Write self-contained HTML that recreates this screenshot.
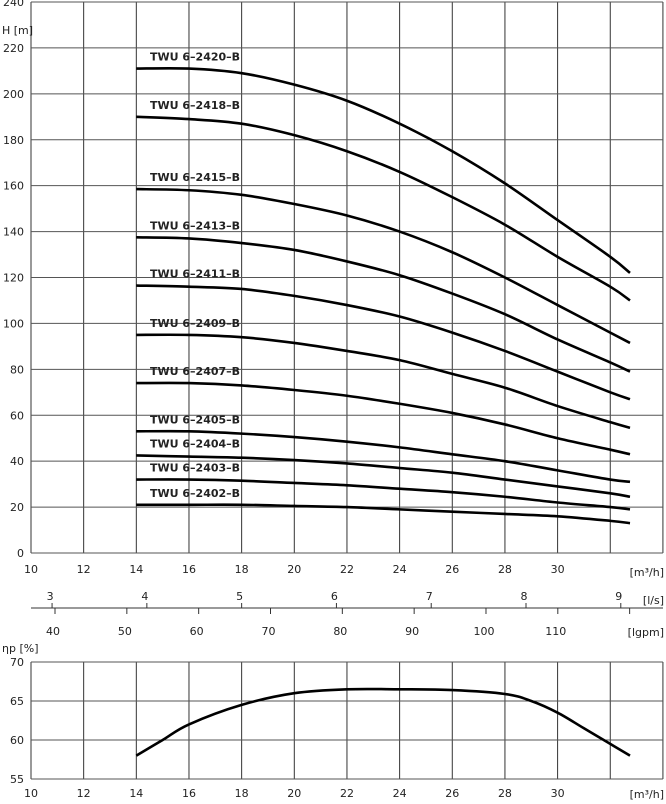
<!DOCTYPE html>
<html><head><meta charset="utf-8"><style>
body{margin:0;background:#fff;font-family:"DejaVu Sans","Liberation Sans",sans-serif;}
svg text{font-size:11px;fill:#222;}
</style></head><body>
<svg id="c" width="666" height="800"></svg>
<script>
const flows=[14,16,18,20,22,24,26,28,30,32,32.75];
const names=["TWU 6-2420-B","TWU 6-2418-B","TWU 6-2415-B","TWU 6-2413-B","TWU 6-2411-B","TWU 6-2409-B","TWU 6-2407-B","TWU 6-2405-B","TWU 6-2404-B","TWU 6-2403-B","TWU 6-2402-B"];
const h2420=[211,211,209,204,197,187,175,161,145,129,122];
const h2418=[190,189,187,182,175,166,155,143,129,116,110];
const h2415=[158.5,158,156,152,147,140,131,120,108,96,91.5];
const h2413=[137.5,137,135,132,127,121,113,104,93,83,79];
const h2411=[116.5,116,115,112,108,103,96,88,79,70,67];
const h2409=[95,95,94,91.5,88,84,78,72,64,57,54.5];
const h2407=[74,74,73,71,68.5,65,61,56,50,45,43];
const h2405=[53,53,52,50.5,48.5,46,43,40,36,32,31];
const h2404=[42.5,42,41.5,40.5,39,37,35,32,29,26,24.5];
const h2403=[32,32,31.5,30.5,29.5,28,26.5,24.5,22,20,19];
const h2402=[21,21,21,20.5,20,19,18,17,16,14,13];
const effFlows=[14,15,16,18,20,22,24,26,28,29,30,31,32,32.75];
const eff=[58,60,62,64.5,66,66.5,66.5,66.4,65.9,65,63.5,61.5,59.5,58];
const xTicks=[10,12,14,16,18,20,22,24,26,28,30];
const hTicks=[0,20,40,60,80,100,120,140,160,180,200,220,240];
const effTicks=[55,60,65,70];
const lsTicks=[3,4,5,6,7,8,9];
const gpmTicks=[40,50,60,70,80,90,100,110];

const NS="http://www.w3.org/2000/svg",svg=document.getElementById('c');
const X=q=>31+(q-10)*26.33;
const Y=h=>553-h*(551/240);
const YE=e=>779-(e-55)*(117/15);
function el(t,a,txt){const e=document.createElementNS(NS,t);for(const k in a)e.setAttribute(k,a[k]);if(txt!==undefined)e.textContent=txt;svg.appendChild(e);return e;}
function path(xs,ys,fx,fy){let p=xs.map((x,i)=>[fx(x),fy(ys[i])]);let d="M"+p[0][0]+","+p[0][1];
for(let i=0;i<p.length-1;i++){const p0=p[Math.max(0,i-1)],p1=p[i],p2=p[i+1],p3=p[Math.min(p.length-1,i+2)];
d+=` C${p1[0]+(p2[0]-p0[0])/6},${p1[1]+(p2[1]-p0[1])/6} ${p2[0]-(p3[0]-p1[0])/6},${p2[1]-(p3[1]-p1[1])/6} ${p2[0]},${p2[1]}`;}return d;}
// main grid
for(let q=10;q<=34;q+=2){const g=el('line',{x1:X(q),x2:X(q),y1:Y(240),y2:Y(0),stroke:'#333','stroke-width':1});

const g2=el('line',{x1:X(q),x2:X(q),y1:YE(70),y2:YE(55),stroke:'#333','stroke-width':1});
}
hTicks.forEach(h=>{const l=el('line',{x1:X(10),x2:X(34),y1:Y(h),y2:Y(h),stroke:'#555','stroke-width':1});

const t=el('text',{x:24,y:Y(h)+4,'text-anchor':'end'},h);
});
effTicks.forEach(e=>{const l=el('line',{x1:X(10),x2:X(34),y1:YE(e),y2:YE(e),stroke:'#555','stroke-width':1});

const t=el('text',{x:24,y:YE(e)+4,'text-anchor':'end'},e);
});
xTicks.forEach(q=>{const t=el('text',{x:X(q),y:573,'text-anchor':'middle'},q);

const t2=el('text',{x:X(q),y:797,'text-anchor':'middle'},q);
});
let t;
t=el('text',{x:2,y:34,'font-size':'11'},'H [m]');
t=el('text',{x:664,y:576,'text-anchor':'end'},'[m³/h]');
t=el('text',{x:664,y:798,'text-anchor':'end'},'[m³/h]');
t=el('text',{x:2,y:652},'ηp [%]');
// secondary axes
t=el('line',{x1:31,x2:663,y1:608,y2:608,stroke:'#333','stroke-width':1});
lsTicks.forEach(v=>{const x=X(v*3.6);const l=el('line',{x1:x,x2:x,y1:603,y2:608,stroke:'#333'});

const tt=el('text',{x:x-2,y:600,'text-anchor':'middle'},v);});
gpmTicks.forEach(v=>{const x=X(v*0.2728);const l=el('line',{x1:x,x2:x,y1:608,y2:614,stroke:'#333'});

const tt=el('text',{x:x-2,y:635,'text-anchor':'middle'},v);});
{const l=el('line',{x1:X(34*0.2728/0.2728*0+120*0.2728),x2:X(120*0.2728),y1:608,y2:614,stroke:'#333'});}
t=el('text',{x:664,y:604,'text-anchor':'end'},'[l/s]');
t=el('text',{x:664,y:636,'text-anchor':'end'},'[lgpm]');
// curves
const series=[h2420,h2418,h2415,h2413,h2411,h2409,h2407,h2405,h2404,h2403,h2402];
series.forEach((s,i)=>{const p=el('path',{d:path(flows,s,X,Y),fill:'none',stroke:'#000','stroke-width':2.6});

const lb=el('text',{x:150,y:Y(s[0])-8,'font-size':'9.5','font-weight':'bold'},names[i].replace(/-/g,'–'));
});
const ep=el('path',{d:path(effFlows,eff,X,YE),fill:'none',stroke:'#000','stroke-width':2.6});

</script></body></html>
